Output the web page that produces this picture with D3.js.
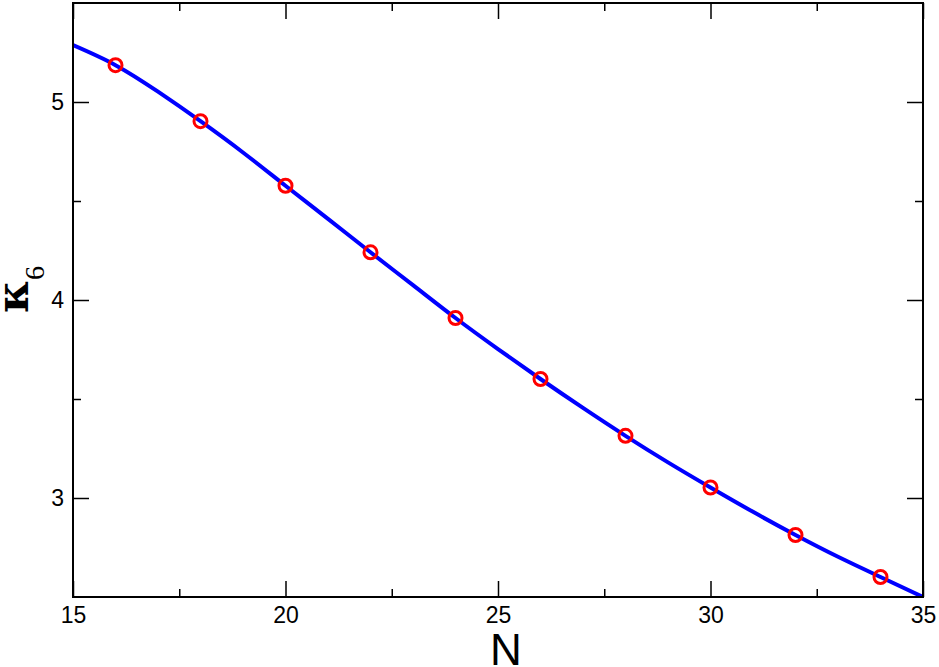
<!DOCTYPE html>
<html>
<head>
<meta charset="utf-8">
<script src="https://cdn.jsdelivr.net/npm/d3@7/dist/d3.min.js"></script>
<style>
  html, body { margin: 0; padding: 0; background: #fff; }
  svg { display: block; }
</style>
</head>
<body>
<svg id="chart" width="939" height="667"></svg>
<script>
// ---- data ----
const pointN = [16, 18, 20, 22, 24, 26, 28, 30, 32, 34];
const pointK = [5.186, 4.903, 4.577, 4.241, 3.909, 3.601, 3.314, 3.053, 2.813, 2.601];

const curveN = [15, 16, 17, 18, 19, 20, 21, 22, 23, 24, 25, 26, 27, 28, 29, 30, 31, 32, 33, 34, 35];
const curveK = [5.287, 5.186, 5.052, 4.903, 4.745, 4.577, 4.410, 4.241, 4.075, 3.909, 3.752, 3.601, 3.455, 3.314, 3.180, 3.053, 2.930, 2.813, 2.703, 2.601, 2.500];

const xMajorTicks = [15, 20, 25, 30, 35];
const xMinorTicks = [17.5, 22.5, 27.5, 32.5];
const yMajorTicks = [3, 4, 5];
const yMinorTicks = [3.5, 4.5];
const xDomain = [15, 35];
const yDomain = [2.5, 5.5];

// ---- layout ----
const margin = { left: 73, top: 3, right: 16, bottom: 70 };
const W = 939, H = 667;
const pw = W - margin.left - margin.right;   // 850
const ph = H - margin.top - margin.bottom;   // 594

const svg = d3.select("#chart");
const g = svg.append("g").attr("transform", `translate(${margin.left},${margin.top})`);

const x = d3.scaleLinear().domain(xDomain).range([0, pw]);
const y = d3.scaleLinear().domain(yDomain).range([ph, 0]);

const tickFont = "'Liberation Sans', Arial, Helvetica, sans-serif";

function styleAxis(sel) {
  sel.select(".domain").remove();
  sel.selectAll(".tick line").attr("stroke", "#000").attr("stroke-width", 1.5);
  sel.selectAll(".tick text").attr("font-family", tickFont).attr("font-size", 23).attr("fill", "#000");
}

// bottom major
g.append("g").attr("transform", `translate(0,${ph})`)
  .call(d3.axisBottom(x).tickValues(xMajorTicks).tickSize(-16).tickPadding(10).tickFormat(d3.format("d")))
  .call(styleAxis);
// bottom minor
g.append("g").attr("transform", `translate(0,${ph})`)
  .call(d3.axisBottom(x).tickValues(xMinorTicks).tickSize(-8).tickFormat(""))
  .call(styleAxis);
// top major/minor
g.append("g")
  .call(d3.axisTop(x).tickValues(xMajorTicks).tickSize(-16).tickFormat(""))
  .call(styleAxis);
g.append("g")
  .call(d3.axisTop(x).tickValues(xMinorTicks).tickSize(-8).tickFormat(""))
  .call(styleAxis);
// left major
g.append("g")
  .call(d3.axisLeft(y).tickValues(yMajorTicks).tickSize(-16).tickPadding(9).tickFormat(d3.format("d")))
  .call(styleAxis);
g.append("g")
  .call(d3.axisLeft(y).tickValues(yMinorTicks).tickSize(-8).tickFormat(""))
  .call(styleAxis);
// right
g.append("g").attr("transform", `translate(${pw},0)`)
  .call(d3.axisRight(y).tickValues(yMajorTicks).tickSize(-16).tickFormat(""))
  .call(styleAxis);
g.append("g").attr("transform", `translate(${pw},0)`)
  .call(d3.axisRight(y).tickValues(yMinorTicks).tickSize(-8).tickFormat(""))
  .call(styleAxis);

// clip
svg.append("defs").append("clipPath").attr("id", "clip")
  .append("rect").attr("x", 0).attr("y", 0).attr("width", pw).attr("height", ph);

// curve
const curveData = curveN.map((n, i) => [n, curveK[i]]);
g.append("path")
  .datum(curveData)
  .attr("clip-path", "url(#clip)")
  .attr("fill", "none")
  .attr("stroke", "#0000ff")
  .attr("stroke-width", 4)
  .attr("d", d3.line().x(d => x(d[0])).y(d => y(d[1])).curve(d3.curveNatural));

// points
g.selectAll("circle.pt")
  .data(pointN.map((n, i) => [n, pointK[i]]))
  .join("circle")
  .attr("class", "pt")
  .attr("cx", d => x(d[0]))
  .attr("cy", d => y(d[1]))
  .attr("r", 6.5)
  .attr("fill", "none")
  .attr("stroke", "#ff0000")
  .attr("stroke-width", 3);

// frame
g.append("rect")
  .attr("x", 0).attr("y", 0).attr("width", pw).attr("height", ph)
  .attr("fill", "none").attr("stroke", "#000").attr("stroke-width", 2);

// x label
svg.append("text")
  .attr("x", 506).attr("y", 665)
  .attr("text-anchor", "middle")
  .attr("font-family", tickFont)
  .attr("font-size", 44)
  .attr("fill", "#000")
  .text("N");

// y label (kappa_6)
const yl = svg.append("text")
  .attr("transform", "translate(28,313) rotate(-90)")
  .attr("font-family", "'DejaVu Serif', 'Liberation Serif', serif")
  .attr("fill", "#000");
yl.append("tspan").attr("font-size", 44).attr("font-weight", "bold").text("κ");
yl.append("tspan").attr("font-size", 28).attr("font-family", "'Liberation Serif', serif").attr("dy", 16).text("6");
</script>
</body>
</html>
